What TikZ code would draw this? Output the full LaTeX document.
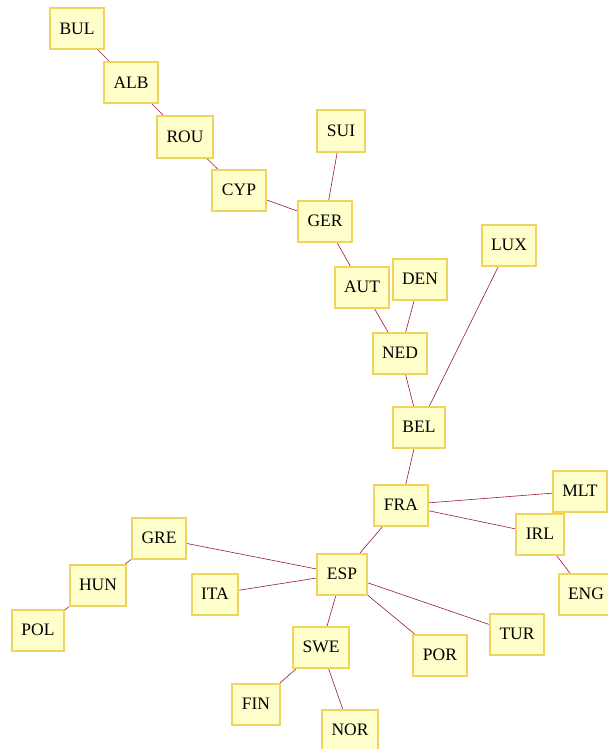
\documentclass[tikz,border=0pt]{standalone}
\usepackage{fontspec}
\setmainfont{Liberation Serif}
\definecolor{boxfill}{RGB}{255,255,204}
\definecolor{boxline}{RGB}{240,212,96}
\definecolor{edgered}{RGB}{150,30,45}
\begin{document}
\begin{tikzpicture}[x=1pt,y=-1pt,
  team/.style={draw=boxline,fill=boxfill,line width=2pt,inner xsep=9.5pt,
    minimum height=41pt,font=\fontsize{17.5}{19}\selectfont},
  link/.style={draw=edgered,line width=0.6pt}]
\clip (0,0) rectangle (608,749);
\useasboundingbox (0,0) rectangle (608,749);
% edges first, boxes drawn over them
\coordinate (bul) at (77,29);
\coordinate (alb) at (131,83);
\coordinate (rou) at (185,137);
\coordinate (cyp) at (239,190);
\coordinate (sui) at (341,131);
\coordinate (ger) at (325,221);
\coordinate (aut) at (362,287);
\coordinate (den) at (420,279);
\coordinate (ned) at (400,353);
\coordinate (lux) at (509,245);
\coordinate (bel) at (419,427);
\coordinate (fra) at (401,505);
\coordinate (mlt) at (580,491);
\coordinate (irl) at (540,534);
\coordinate (eng) at (586,594);
\coordinate (esp) at (342,574);
\coordinate (gre) at (159,538);
\coordinate (hun) at (98,585);
\coordinate (pol) at (38,630);
\coordinate (ita) at (215,594);
\coordinate (swe) at (321,647);
\coordinate (por) at (440,655);
\coordinate (tur) at (517,634);
\coordinate (fin) at (256,704);
\coordinate (nor) at (350,730);
\draw[link] (bul) -- (alb) -- (rou) -- (cyp) -- (ger) -- (aut) -- (ned) -- (bel) -- (fra) -- (esp);
\draw[link] (sui) -- (ger);
\draw[link] (den) -- (ned);
\draw[link] (lux) -- (bel);
\draw[link] (fra) -- (mlt);
\draw[link] (fra) -- (irl) -- (eng);
\draw[link] (esp) -- (gre) -- (hun) -- (pol);
\draw[link] (esp) -- (ita);
\draw[link] (esp) -- (swe) -- (fin);
\draw[link] (swe) -- (nor);
\draw[link] (esp) -- (por);
\draw[link] (esp) -- (tur);
% boxes
\node[team] (BUL) at (bul) {BUL};
\node[team] (ALB) at (alb) {ALB};
\node[team] (ROU) at (rou) {ROU};
\node[team] (CYP) at (cyp) {CYP};
\node[team] (SUI) at (sui) {SUI};
\node[team] (GER) at (ger) {GER};
\node[team] (AUT) at (aut) {AUT};
\node[team] (DEN) at (den) {DEN};
\node[team] (NED) at (ned) {NED};
\node[team] (LUX) at (lux) {LUX};
\node[team] (BEL) at (bel) {BEL};
\node[team] (FRA) at (fra) {FRA};
\node[team] (MLT) at (mlt) {MLT};
\node[team] (IRL) at (irl) {IRL};
\node[team] (ENG) at (eng) {ENG};
\node[team] (ESP) at (esp) {ESP};
\node[team] (GRE) at (gre) {GRE};
\node[team] (HUN) at (hun) {HUN};
\node[team] (POL) at (pol) {POL};
\node[team] (ITA) at (ita) {ITA};
\node[team] (SWE) at (swe) {SWE};
\node[team] (POR) at (por) {POR};
\node[team] (TUR) at (tur) {TUR};
\node[team] (FIN) at (fin) {FIN};
\node[team] (NOR) at (nor) {NOR};
\end{tikzpicture}
\end{document}
